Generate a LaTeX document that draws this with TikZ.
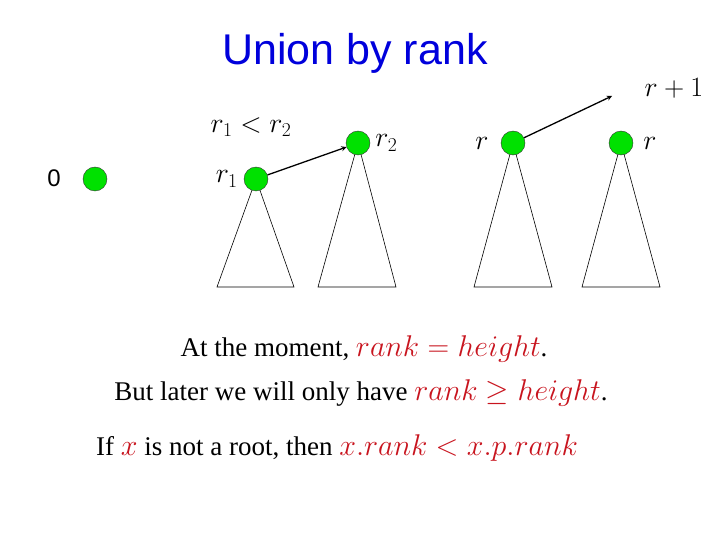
\documentclass[tikz,border=0pt]{standalone}
\usepackage{fix-cm}
\usepackage{fontspec}
\setmainfont{Liberation Serif}
\newfontfamily\titlefont{Liberation Sans}
\usetikzlibrary{positioning}
\definecolor{titleblue}{RGB}{0,0,220}
\definecolor{mathred}{RGB}{200,20,30}
\definecolor{rootgreen}{RGB}{0,225,0}
\newcommand{\redmath}[1]{{\color{mathred}\fontsize{30}{34}\selectfont$#1$}}
\begin{document}
\begin{tikzpicture}[x=1pt,y=-1pt,>=stealth,
	root/.style={circle,draw=black!80,fill=rootgreen,minimum size=24pt,inner sep=0pt},
	lab/.style={font=\fontsize{28}{32}\selectfont,inner sep=1pt},
	txt/.style={font=\fontsize{27}{31}\selectfont,inner sep=0pt}]
	\useasboundingbox (0,0) rectangle (720,540);
	\node[font=\titlefont\fontsize{43}{48}\selectfont,text=titleblue] (title) at (355,53) {Union by rank};
	% subtrees
	\draw[line width=0.6pt] (256,179)--(217,287)--(294,287)--cycle;
	\draw[line width=0.6pt] (358,143)--(318,287)--(396,287)--cycle;
	\draw[line width=0.6pt] (513,143)--(474,287)--(552,287)--cycle;
	\draw[line width=0.6pt] (621,143)--(582,287)--(660,287)--cycle;
	% roots
	\node[root] (zero) at (95,179) {};
	\node[root] (ra) at (256,179) {};
	\node[root] (rb) at (358,143) {};
	\node[root] (rc) at (513,143) {};
	\node[root] (rd) at (621,143) {};
	\coordinate (up) at (612,96);
	\node[font=\titlefont\fontsize{24}{28}\selectfont] (zerolab) at (54,178) {0};
	\node[lab,left=5pt of ra] (ralab) {$r_1$};
	\node[lab,right=4pt of rb] (rblab) {$r_2$};
	\node[lab,left=11pt of rc] (rclab) {$r$};
	\node[lab,right=9pt of rd] (rdlab) {$r$};
	\node[lab] (cmp) at (251,127) {$r_1<r_2$};
	\node[lab] (next) at (674,88) {$r+1$};
	\draw[->,line width=1.3pt] (ra)--(rb);
	\draw[->,line width=1.3pt] (rc)--(up);
	% text
	\node[txt] (now) at (364,349) {At the moment, \redmath{rank=height}.};
	\node[txt] (later) at (361,393) {But later we will only have \redmath{rank\geq height}.};
	\node[txt,anchor=west] (root) at (96,448) {If \redmath{x} is not a root, then \redmath{x.rank<x.p.rank}};
\end{tikzpicture}
\end{document}
